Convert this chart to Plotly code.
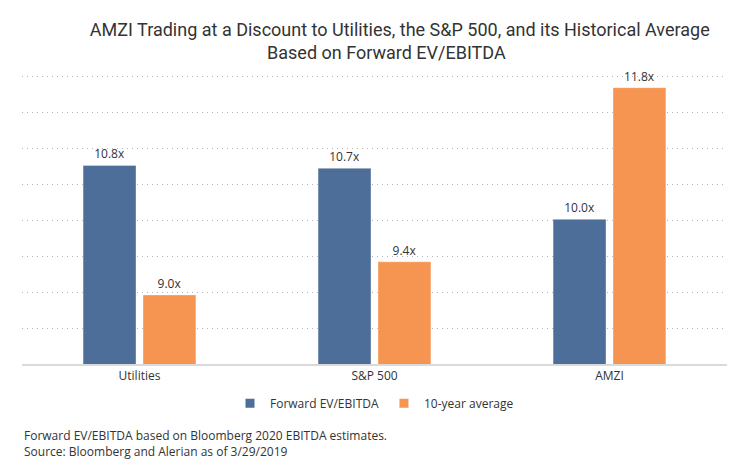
import plotly.graph_objects as go

categories = ["Utilities", "S&P 500", "AMZI"]
forward_ev_ebitda = [10.76, 10.72, 10.01]
ten_year_avg = [8.96, 9.42, 11.84]
series_names = ["Forward EV/EBITDA", "10-year average"]
colors = ["#4D6E99", "#F69552"]
title_text = ("AMZI Trading at a Discount to Utilities, the S&P 500, and its Historical Average"
              "<br>Based on Forward EV/EBITDA" + "&nbsp;" * 6)
footnote = ("Forward EV/EBITDA based on Bloomberg 2020 EBITDA estimates.<br>"
            "Source: Bloomberg and Alerian as of 3/29/2019")

TITLE_FONT = "Roboto, sans-serif"
BODY_FONT = "Open Sans, sans-serif"
TXT = "#333333"

fig = go.Figure()
for name, vals, col in zip(series_names, [forward_ev_ebitda, ten_year_avg], colors):
    fig.add_trace(go.Bar(
        x=categories, y=vals, name=name, showlegend=False,
        marker=dict(color=col, line=dict(color="rgba(255,255,255,0.35)", width=1)),
        texttemplate="%{y:.1f}x", textposition="outside",
        textfont=dict(family=BODY_FONT, size=12, color=TXT),
        cliponaxis=False,
    ))
    fig.add_trace(go.Scatter(
        x=[None], y=[None], mode="markers", name=name,
        marker=dict(symbol="square", size=9, color=col),
    ))

# page body has an 8px margin, so the figure is 742x466 and sits at (8, 8)
fig.update_layout(
    width=742, height=466,
    margin=dict(l=14, r=23, t=66, b=110, autoexpand=False),
    paper_bgcolor="white", plot_bgcolor="white",
    title=dict(text=title_text, x=0.528, xanchor="center", y=0.9406, yanchor="top",
               font=dict(family=TITLE_FONT, size=18, color=TXT)),
    barmode="group", bargap=0.49, bargroupgap=0.117,
    legend=dict(orientation="h", x=0.5, xanchor="center", y=-0.135, yanchor="middle",
                font=dict(family=BODY_FONT, size=12, color=TXT),
                itemwidth=30, tracegroupgap=0),
    xaxis=dict(showline=True, linecolor="#DADADA", linewidth=2, ticks="",
               tickfont=dict(family=BODY_FONT, size=12, color=TXT)),
    yaxis=dict(range=[8, 12.03], tick0=8, dtick=0.5, showticklabels=False, zeroline=False,
               showgrid=True, gridcolor="#B5B5B5", griddash="1px,4px", gridwidth=1),
    annotations=[dict(text=footnote, xref="paper", yref="paper", x=0, y=-0.211,
                      xanchor="left", yanchor="top", align="left", showarrow=False,
                      font=dict(family=BODY_FONT, size=12, color=TXT))],
)

fig.write_html("out.html")
